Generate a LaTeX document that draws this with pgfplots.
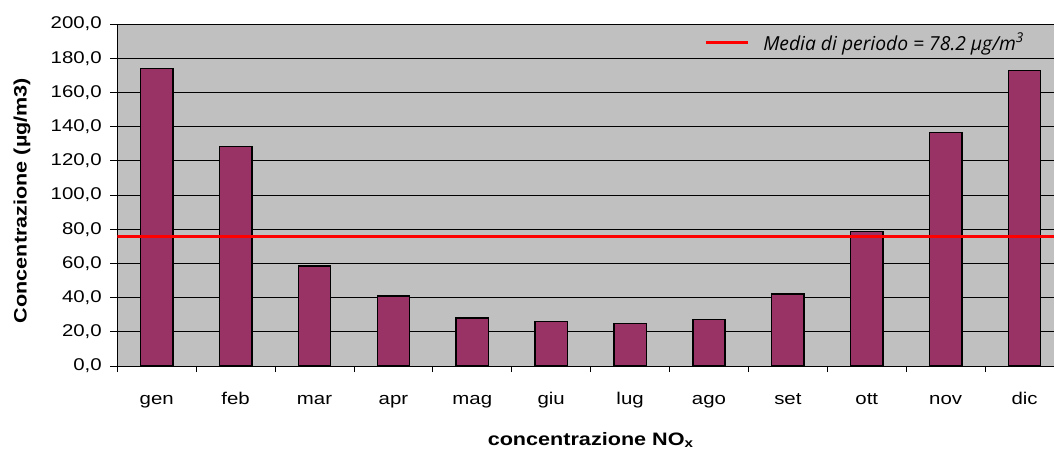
\documentclass[border=0pt]{standalone}
\usepackage{fontspec}
\setmainfont{Liberation Sans}[FakeStretch=1.2]
\newfontfamily\legfont{Open Sans}
\usepackage{pgfplots}
\pgfplotsset{compat=1.18}
\pgfplotsset{mylegline/.style={legend image code/.code={\draw[##1, line width=3pt] (0pt,0pt) -- (42pt,0pt);}}}
\definecolor{barpurple}{HTML}{993366}
\definecolor{plotgray}{HTML}{C0C0C0}
\begin{document}
\begin{tikzpicture}
\begin{axis}[
  name=ax,
  scale only axis,
  width=946.7pt, height=342pt,
  xmin=-0.5, xmax=11.5, ymin=0, ymax=200,
  axis background/.style={fill=plotgray},
  ytick={0,20,...,200},
  xtick={0,...,11},
  xticklabels={gen,feb,mar,apr,mag,giu,lug,ago,set,ott,nov,dic},
  minor xtick={-0.5,0.5,...,11.5},
  tick align=outside,
  tick pos=left,
  major tick length=7pt,
  minor tick length=6pt,
  major x tick style={draw=none},
  tick style={black, line width=0.8pt},
  ymajorgrids, grid style={black, line width=0.8pt},
  axis line style={black, line width=0.9pt},
  /pgf/number format/.cd, fixed, fixed zerofill, precision=1, use comma, assume math mode=true, /pgfplots/.cd,
  ticklabel style={font=\fontsize{17}{20}\selectfont},
  xticklabel style={anchor=base, yshift=-31pt},
  yticklabel style={xshift=-5pt},
  xlabel={concentrazione NO\textsubscript{x}},
  ylabel={Concentrazione (µg/m3)},
  label style={font=\fontsize{18}{21}\selectfont\bfseries},
  xlabel style={at={([yshift=-79pt]axis description cs:0.5,0)}, anchor=base},
  ylabel style={at={([xshift=-95.3pt, yshift=-5.5pt]axis description cs:0,0.5)}, anchor=center},
  legend style={draw=none, fill=none, at={(rel axis cs:0.963,0.947)}, anchor=east,
    font=\legfont\itshape\fontsize{19.3}{22}\selectfont},
]
\addplot[ybar, bar width=0.41, fill=barpurple, draw=black, line width=1.5pt, forget plot]
  coordinates {(0,174.1) (1,128.4) (2,58.6) (3,41.0) (4,28.0) (5,25.9) (6,24.9) (7,27.1) (8,42.1) (9,78.8) (10,136.6) (11,172.7)};
\addplot[red, line width=3.3pt, mylegline]
  coordinates {(-0.5,75.9) (11.5,75.9)};
\addlegendentry{\hspace*{12pt}Media di periodo = 78.2 μg/m\textsuperscript{3}}
\end{axis}
\pgfresetboundingbox
\path ([shift={(-117.3pt,-86pt)}]ax.south west) rectangle ([shift={(936.7pt,24pt)}]ax.north west);
\end{tikzpicture}
\end{document}
